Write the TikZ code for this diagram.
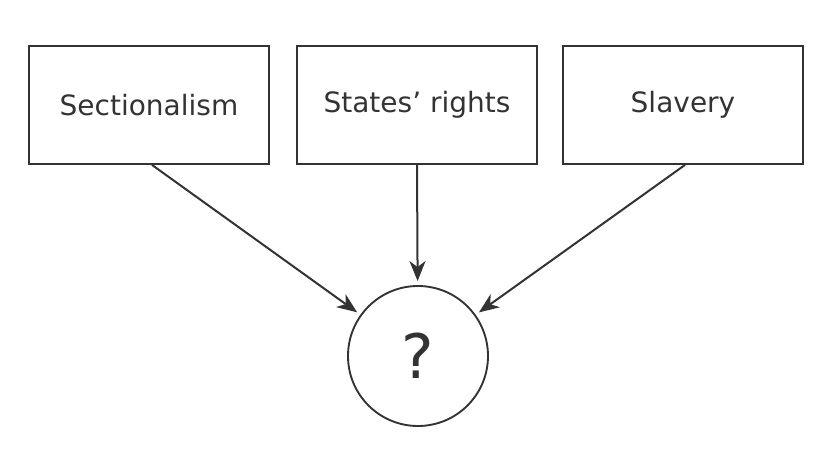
\documentclass[tikz,border=0pt]{standalone}
\usepackage{fontspec}
\setmainfont{DejaVu Sans}
\usetikzlibrary{arrows.meta}
\definecolor{ink}{HTML}{333333}
\begin{document}
\begin{tikzpicture}[x=0.75pt,y=-0.75pt,
  cause/.style={draw=ink,line width=1.4pt,minimum width=240*0.75pt,minimum height=118*0.75pt,inner sep=0pt,text=ink,font=\fontsize{21}{25}\selectfont},
  result/.style={draw=ink,line width=1.4pt,circle,minimum size=140*0.75pt,inner sep=0pt,text=ink,font=\fontsize{46}{52}\selectfont},
  link/.style={draw=ink,line width=1.5pt,-{Stealth[length=15pt,width=12pt,inset=4.5pt]},shorten >=3pt}]
\useasboundingbox (0,0) rectangle (840,456);
\node[cause] (a) at (149,105) {Sectionalism};
\node[cause] (b) at (417,105) {States’ rights};
\node[cause] (c) at (683,105) {Slavery};
\node[result] (q) at (418,356) {?};
\draw[link] (a.south) ++(3,0) coordinate (as) -- (q);
\draw[link] (b.south) -- (q);
\draw[link] (c.south) ++(2,0) coordinate (cs) -- (q);
\end{tikzpicture}
\end{document}
